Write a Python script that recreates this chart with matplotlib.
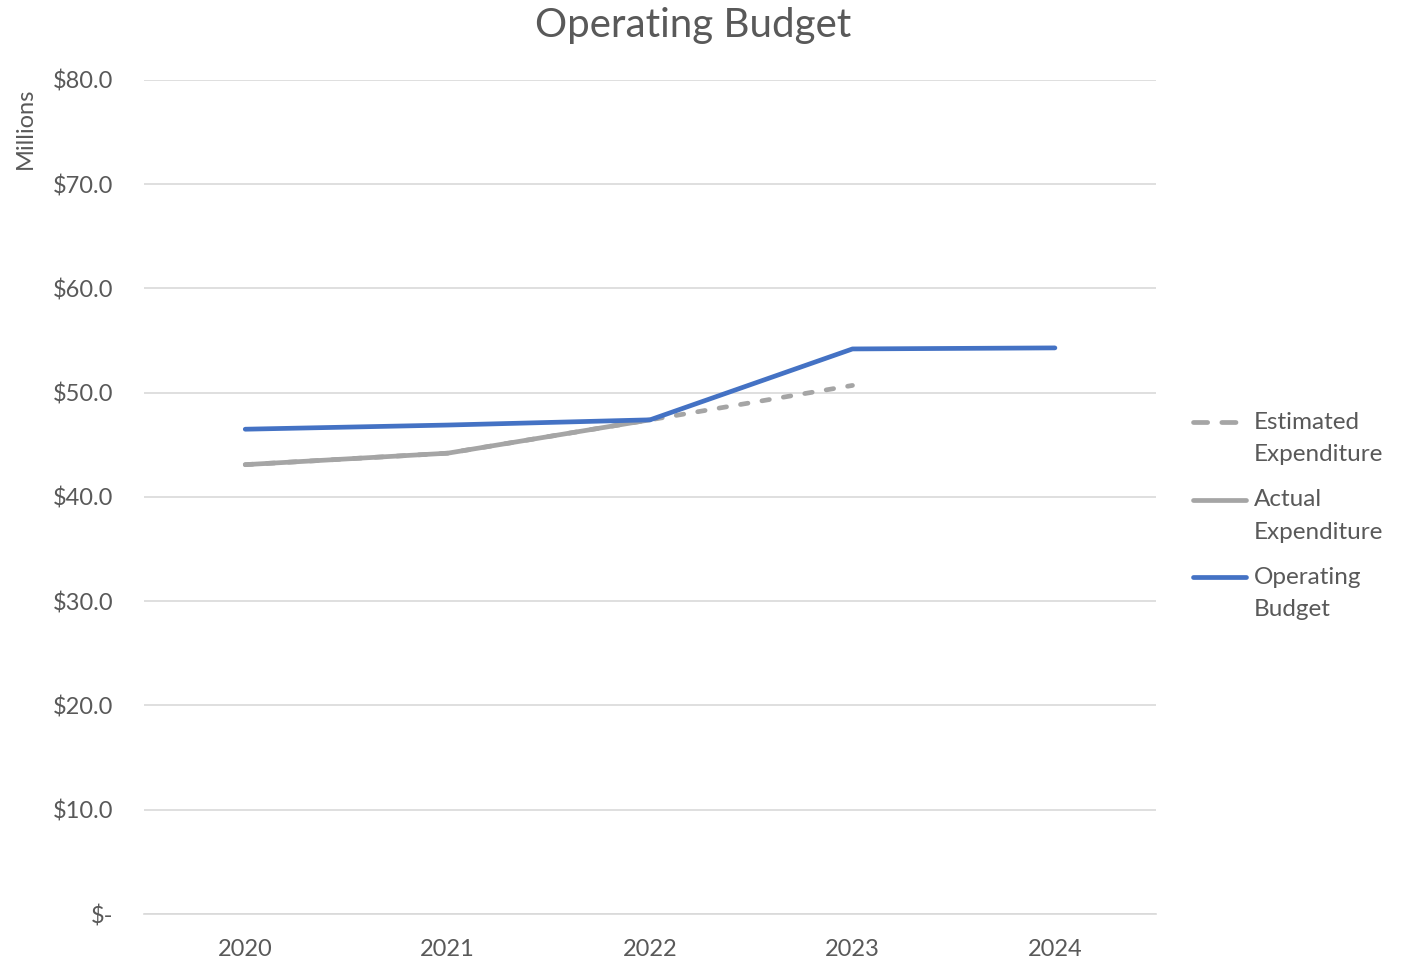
import matplotlib
matplotlib.use("Agg")
import matplotlib.pyplot as plt
from matplotlib.lines import Line2D
from matplotlib.ticker import FuncFormatter

plt.rcParams['font.family'] = ['Lato', 'DejaVu Sans']

years = ['2020', '2021', '2022', '2023', '2024']
operating_budget = [46.5, 46.9, 47.4, 54.2, 54.3]
actual_expenditure = [43.1, 44.2, 47.4]
estimated_expenditure = [43.1, 44.2, 47.4, 50.7]

text_col = '#595959'
grid_col = '#d9d9d9'
gray = '#a5a5a5'
blue = '#4472c4'
lw = 3.4

fig = plt.figure(figsize=(14.08, 9.61), dpi=100)
ax = fig.add_axes([0.1023, 0.0489, 0.7188, 0.8679])

x = list(range(len(years)))
ax.plot(x[:len(estimated_expenditure)], estimated_expenditure, color=gray, lw=lw,
        dashes=(1.6, 3.0), dash_capstyle='round', zorder=2)
ax.plot(x[:len(actual_expenditure)], actual_expenditure, color=gray, lw=lw,
        solid_capstyle='round', zorder=3)
ax.plot(x, operating_budget, color=blue, lw=lw, solid_capstyle='round', zorder=4)

ax.set_xlim(-0.5, len(years) - 0.5)
ax.set_ylim(0, 80)
ax.set_yticks(range(0, 81, 10))
ax.yaxis.set_major_formatter(FuncFormatter(lambda v, p: '$-' if v == 0 else f'${v:.1f}'))
ax.set_xticks(x)
ax.set_xticklabels(years)

ax.grid(axis='y', color=grid_col, lw=1.2)
ax.set_axisbelow(True)
for s in ['top', 'right', 'left']:
    ax.spines[s].set_visible(False)
ax.spines['bottom'].set_color(grid_col)
ax.spines['bottom'].set_linewidth(1.2)
ax.tick_params(axis='both', length=0, labelsize=17, colors=text_col)
ax.tick_params(axis='y', pad=22)
ax.tick_params(axis='x', pad=18)

fig.text(0.492, 0.973, 'Operating Budget', ha='center', va='center', fontsize=29, color=text_col)
fig.text(0.018, 0.866, 'Millions', rotation=90, ha='center', va='center', fontsize=17, color=text_col)

# legend drawn by hand so the wrapped labels hang from the line like in Excel
W, H = 1408, 961
legend_items = [
    ('Estimated\nExpenditure', gray, (3.0, 3.0)),
    ('Actual\nExpenditure', gray, None),
    ('Operating\nBudget', blue, None),
]
for i, (label, col, dash) in enumerate(legend_items):
    yy = 1 - (422 + 77.5 * i) / H
    ln = Line2D([1193 / W, 1246 / W], [yy, yy], transform=fig.transFigure,
                color=col, lw=lw, solid_capstyle='round', dash_capstyle='round')
    if dash:
        ln.set_dashes(dash)
    fig.add_artist(ln)
    fig.text(1254 / W, yy + 10 / H, label, ha='left', va='top', fontsize=17.5,
             color=text_col, linespacing=1.65)

fig.savefig('out.png', dpi=100)
